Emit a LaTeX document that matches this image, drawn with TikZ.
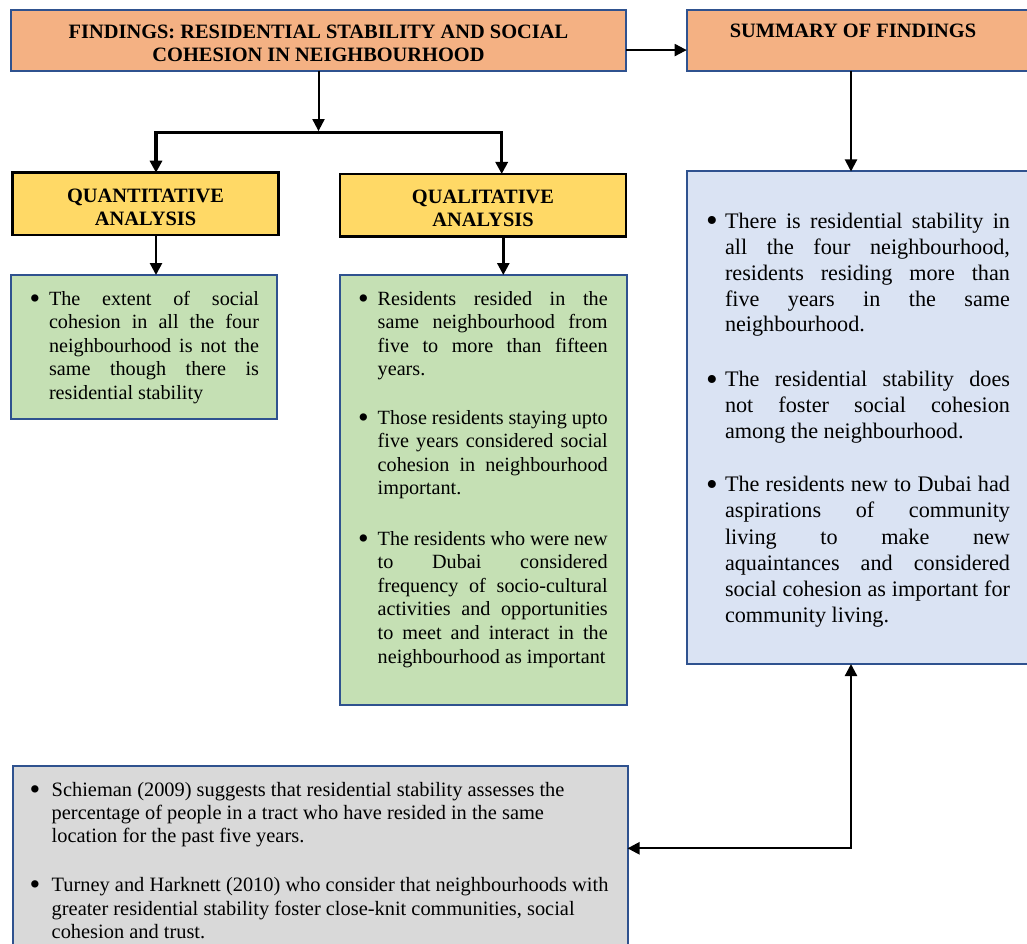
\documentclass[tikz,border=0pt]{standalone}
\usepackage{fontspec}
\setmainfont{Liberation Serif}
\usetikzlibrary{arrows.meta,calc}

\definecolor{edgeblue}{HTML}{2F528F}
\definecolor{peach}{HTML}{F4B183}
\definecolor{gold}{HTML}{FFD966}
\definecolor{sage}{HTML}{C5E0B4}
\definecolor{mist}{HTML}{DAE3F3}
\definecolor{ash}{HTML}{D9D9D9}

% a justified line of given width, then a line break
\newcommand{\jline}[2]{\makebox[#1][s]{#2}\\}
% a somewhat larger list bullet
\newcommand{\bigdot}{\raisebox{-0.16em}{\scalebox{1.5}{\textbullet}}}
% a bulleted paragraph: bullet column width, text width, lines
\newcommand{\bpara}[3]{\makebox[#1][l]{\bigdot}\parbox[t]{#2}{#3}}

\tikzset{
  bluebox/.style={draw=edgeblue, line width=2pt, inner sep=0pt, outer sep=0pt},
  goldbox/.style={draw=black, fill=gold, line width=2.6pt, inner sep=0pt, outer sep=0pt},
  txt/.style={inner sep=0pt, outer sep=0pt, anchor=base west},
  ctxt/.style={inner sep=0pt, outer sep=0pt, anchor=base},
  tip/.tip={Triangle[length=12pt,width=12pt]},
  conn/.style={line width=2pt, -tip},
  branch/.style={line width=3.3pt, tip-tip, line join=miter},
  twoway/.style={line width=2.3pt, tip-tip},
}

\begin{document}
\begin{tikzpicture}[x=1pt,y=-1pt]
\useasboundingbox (0,0) rectangle (1027,944);
\fill[white] (0,0) rectangle (1027,944);

% ---- boxes ----
\node[bluebox, fill=peach, minimum width=615pt, minimum height=60.7pt] (f) at (318.5,40.35) {};
\node[bluebox, fill=peach, minimum width=343.3pt, minimum height=60.7pt] (s) at (858.35,40.35) {};
\node[goldbox, minimum width=265.6pt, minimum height=62.3pt] (q1) at (145.5,203.85) {};
\node[goldbox, minimum width=286pt, minimum height=62.5pt] (q2) at (483,205.25) {};
\node[bluebox, fill=sage, minimum width=266pt, minimum height=143.5pt] (g1) at (144,346.75) {};
\node[bluebox, fill=sage, minimum width=286.5pt, minimum height=430pt] (g2) at (483.25,490) {};
\node[bluebox, fill=mist, minimum width=343.3pt, minimum height=492.5pt] (sb) at (858.35,417.75) {};
\node[bluebox, fill=ash, minimum width=614.8pt, minimum height=194pt] (gr) at (320.1,863) {};

% ---- headings ----
\node[ctxt] (ft) at (318.5,38.3) {\parbox[t]{615pt}{\centering\fontsize{20.4}{23.4}\selectfont\bfseries
  FINDINGS: RESIDENTIAL STABILITY AND SOCIAL\\ COHESION IN NEIGHBOURHOOD}};
\node[ctxt] (st) at (853,37.3) {\fontsize{20.4}{23.4}\selectfont\bfseries SUMMARY OF FINDINGS};
\node[ctxt] (q1t) at (145.5,202.3) {\parbox[t]{265pt}{\centering\fontsize{20.4}{22.8}\selectfont\bfseries
  QUANTITATIVE\\ ANALYSIS}};
\node[ctxt] (q2t) at (483,203.3) {\parbox[t]{286pt}{\centering\fontsize{20.4}{23.4}\selectfont\bfseries
  QUALITATIVE\\ ANALYSIS}};

% ---- quantitative findings ----
\node[txt] (p1) at (29.5,305) {\fontsize{20.2}{23.5}\selectfont\bpara{19.5pt}{210pt}{%
  \jline{210pt}{The extent of social}%
  \jline{210pt}{cohesion in all the four}%
  \jline{210pt}{neighbourhood is not the}%
  \jline{210pt}{same though there is}%
  residential stability}};

% ---- qualitative findings ----
\node[txt] (p2a) at (358,305) {\fontsize{20.2}{23.6}\selectfont\bpara{19.7pt}{230pt}{%
  \jline{230pt}{Residents resided in the}%
  \jline{230pt}{same neighbourhood from}%
  \jline{230pt}{five to more than fifteen}%
  years.}};
\node[txt] (p2b) at (358,424) {\fontsize{20.2}{23.6}\selectfont\bpara{19.7pt}{230pt}{%
  \jline{230pt}{Those residents staying upto}%
  \jline{230pt}{five years considered social}%
  \jline{230pt}{cohesion in neighbourhood}%
  important.}};
\node[txt] (p2c) at (358,545) {\fontsize{20.2}{23.6}\selectfont\bpara{19.7pt}{230pt}{%
  \jline{230pt}{The residents who were new}%
  \jline{230pt}{to Dubai considered}%
  \jline{230pt}{frequency of socio-cultural}%
  \jline{230pt}{activities and opportunities}%
  \jline{230pt}{to meet and interact in the}%
  neighbourhood as important}};

% ---- summary ----
\node[txt] (p3a) at (706,228.3) {\fontsize{22.2}{25.9}\selectfont\bpara{19pt}{285pt}{%
  \jline{285pt}{There is residential stability in}%
  \jline{285pt}{all the four neighbourhood,}%
  \jline{285pt}{residents residing more than}%
  \jline{285pt}{five years in the same}%
  neighbourhood.}};
\node[txt] (p3b) at (706,386.7) {\fontsize{22.2}{25.9}\selectfont\bpara{19pt}{285pt}{%
  \jline{285pt}{The residential stability does}%
  \jline{285pt}{not foster social cohesion}%
  among the neighbourhood.}};
\node[txt] (p3c) at (706,491.7) {\fontsize{22.2}{26.2}\selectfont\bpara{19pt}{285pt}{%
  \jline{285pt}{The residents new to Dubai had}%
  \jline{285pt}{aspirations of community}%
  \jline{285pt}{living to make new}%
  \jline{285pt}{aquaintances and considered}%
  \jline{285pt}{social cohesion as important for}%
  community living.}};

% ---- literature ----
\node[txt] (p4a) at (29.5,796.7) {\fontsize{20.4}{23.1}\selectfont\bpara{22.2pt}{570pt}{\raggedright
  Schieman (2009) suggests that residential stability assesses the\\
  percentage of people in a tract who have resided in the same\\
  location for the past five years.}};
\node[txt] (p4b) at (29.5,891.7) {\fontsize{20.4}{23.3}\selectfont\bpara{22.2pt}{570pt}{\raggedright
  Turney and Harknett (2010) who consider that neighbourhoods with\\
  greater residential stability foster close-knit communities, social\\
  cohesion and trust.}};

% ---- connectors ----
\coordinate (fa) at ($(f.south east)!0.34!(f.north east)$);
\draw[conn] (fa) -- (fa -| s.west);

\coordinate (hub) at (318.5,132.7);
\coordinate (lq) at (156,132.7);
\coordinate (rq) at (501.7,132.7);
\draw[conn, shorten >=1.6pt] (f.south) -- (hub);
\draw[branch] (lq |- q1.north) -- (lq) -- (rq) -- (rq |- q2.north);

\coordinate (rq2) at (503.3,0);
\draw[conn, line width=2.6pt] (lq |- q1.south) -- (lq |- g1.north);
\draw[conn, line width=2.6pt] (rq2 |- q2.south) -- (rq2 |- g2.north);

\coordinate (sx) at (851,0);
\draw[conn] (s.south -| sx) -- (sb.north -| sx);

\coordinate (elbow) at (851,848.3);
\draw[twoway] (elbow -| gr.east) -- (elbow) -- (elbow |- sb.south);
\end{tikzpicture}
\end{document}
